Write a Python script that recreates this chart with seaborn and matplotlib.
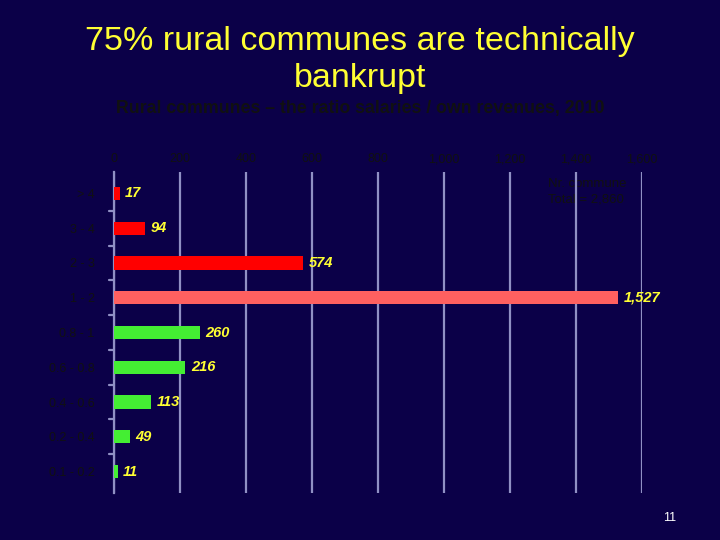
import numpy as np
import pandas as pd
import seaborn as sns
import matplotlib.pyplot as plt

# data
categories = ["> 4", "3 - 4", "2 - 3", "1 - 2", "0.8 - 1", "0.6 - 0.8", "0.4 - 0.6", "0.2 - 0.4", "0.1 - 0.2"]
communes = [17, 94, 574, 1527, 260, 216, 113, 49, 11]
bar_colors = ["#ff0000", "#ff0000", "#ff0000", "#ff6060", "#44ee33", "#44ee33", "#44ee33", "#44ee33", "#44ee33"]
x_ticks = [0, 200, 400, 600, 800, 1000, 1200, 1400, 1600]

bg = "#0b0048"
grid_col = "#9090c4"

sns.set_style("white")
plt.rcParams['font.family'] = ['Liberation Sans', 'DejaVu Sans']

df = pd.DataFrame({"ratio": categories, "nr": communes})

fig = plt.figure(figsize=(7.2, 5.4), dpi=100, facecolor=bg)
ax = fig.add_axes([0.1583, 0.0875, 0.7334, 0.5935])
ax.set_facecolor(bg)

sns.barplot(data=df, x="nr", y="ratio", hue="ratio", palette=bar_colors,
            order=categories, hue_order=categories, width=0.38,
            legend=False, saturation=1, ax=ax, zorder=3,
            edgecolor="none", linewidth=0)

# value labels
for i, v in enumerate(communes):
    ax.annotate(f"{v:,}", xy=(v, i), xytext=(4, 0), textcoords="offset points",
                va="center", ha="left", color="#ffff33", fontsize=10.5,
                fontweight="bold", fontstyle="italic", zorder=4)

ax.set_xlim(0, 1600)
ax.set_xticks(x_ticks)
ax.set_xticklabels([f"{t:,}" for t in x_ticks])
ax.xaxis.tick_top()
ax.tick_params(axis="x", length=0, pad=5, labelsize=9, labelcolor="#111111")
ax.tick_params(axis="y", length=0, pad=14, labelsize=9, labelcolor="#111111")
ax.xaxis.grid(True, color=grid_col, linewidth=1.6, zorder=1)
ax.set_axisbelow(True)

# small ticks between categories on the left spine
for b in np.arange(0.5, len(categories) - 1, 1.0):
    ax.plot([-0.009, 0], [b, b], transform=ax.get_yaxis_transform(),
            color=grid_col, linewidth=1.6, clip_on=False)

for s in ["top", "right", "bottom"]:
    ax.spines[s].set_visible(False)
ax.spines["left"].set_color(grid_col)
ax.spines["left"].set_linewidth(1.6)
ax.set_xlabel("")
ax.set_ylabel("")

ax.text(1315, -0.05, "Nr. commune\nTotal = 2,860", fontsize=9.5, color="#111111",
        va="center", ha="left", linespacing=1.4, zorder=0.5)

fig.text(0.5, 0.888, "75% rural communes are technically\nbankrupt", ha="center", va="center",
         color="#ffff33", fontsize=24.5, linespacing=1.25)
fig.text(0.5, 0.80, "Rural communes \u2013 the ratio salaries / own revenues, 2010",
         ha="center", va="center", color="#111111", fontsize=12.8, fontweight="bold")
fig.text(0.93, 0.04, "11", ha="center", va="center", color="white", fontsize=9)

fig.savefig("out.png", dpi=100, facecolor=bg)
